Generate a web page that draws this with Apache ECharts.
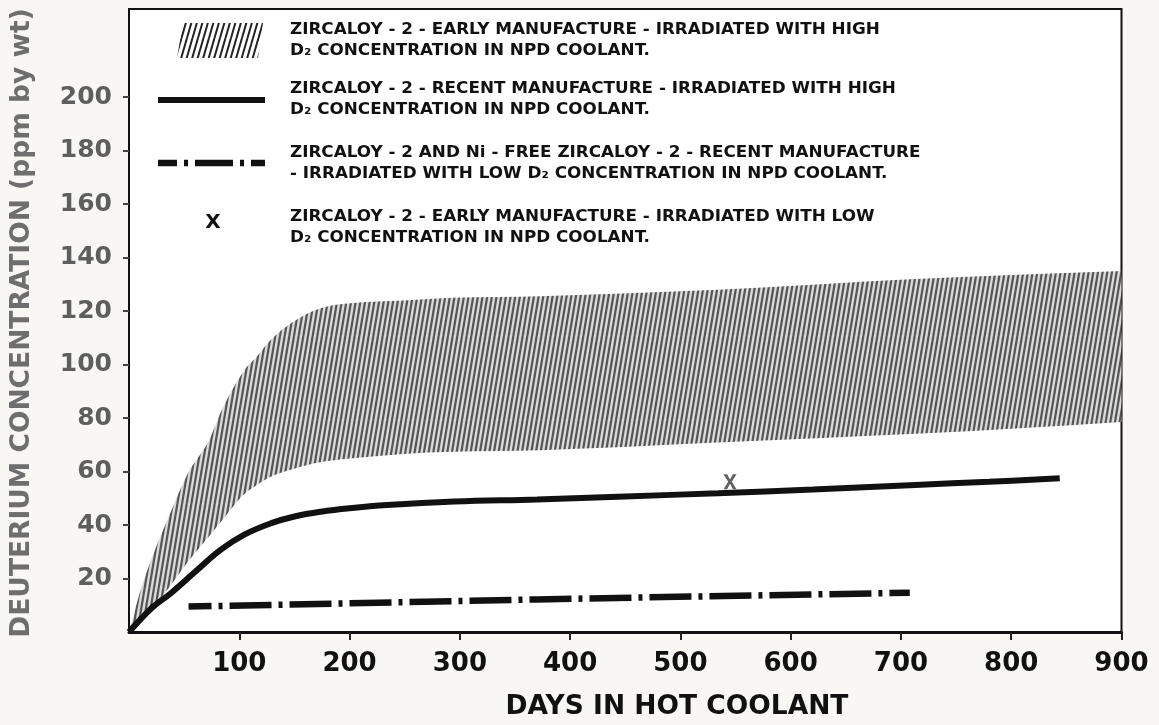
<!DOCTYPE html>
<html>
<head>
<meta charset="utf-8">
<script src="https://cdn.jsdelivr.net/npm/echarts@6/dist/echarts.min.js"></script>
<style>
  html, body { margin: 0; padding: 0; background: #f8f7f4; }
  #chart { width: 1159px; height: 725px; }
</style>
</head>
<body>
<div id="chart"></div>
<script>
// Axis tick values
const xTickValues = [100, 200, 300, 400, 500, 600, 700, 800, 900];
const yTickValues = [20, 40, 60, 80, 100, 120, 140, 160, 180, 200];

// Zircaloy-2, early manufacture, high D2: scatter band (lower / upper edge, ppm)
const bandDays  = [0, 10, 22, 37, 53, 73, 83, 103, 116, 128, 149, 173, 203, 249, 294, 373, 534, 713, 800, 900];
const bandLower = [0, 4, 9, 17, 26, 36, 41, 51, 55, 58, 61, 63.5, 65, 66.6, 67.4, 68, 70.9, 74.1, 76, 78.5];
const bandUpper = [0, 15, 29, 44, 59, 72, 82, 97, 103, 109, 116, 121, 123, 124, 125, 125.6, 128, 132, 133.5, 135];

// Zircaloy-2, recent manufacture, high D2
const recentDays = [0, 11, 22, 38, 60, 83, 105, 129, 150, 174, 200, 234, 295, 370, 450, 534, 620, 713, 780, 844];
const recentPpm  = [0, 5, 9.5, 14.5, 22.5, 30.7, 36.5, 40.7, 43.2, 45.0, 46.3, 47.5, 48.8, 49.6, 50.7, 51.9, 53.3, 55.0, 56.2, 57.5];

// Zircaloy-2 and Ni-free Zircaloy-2, recent manufacture, low D2
const lowD2Days = [54, 370, 708];
const lowD2Ppm  = [9.5, 12.2, 14.7];

// Zircaloy-2, early manufacture, low D2
const earlyLowDays = [545];
const earlyLowPpm  = [56.2];

const legendLabels = [
  'ZIRCALOY - 2 - EARLY MANUFACTURE - IRRADIATED WITH HIGH\nD\u2082 CONCENTRATION IN NPD COOLANT.',
  'ZIRCALOY - 2 - RECENT MANUFACTURE - IRRADIATED WITH HIGH\nD\u2082 CONCENTRATION IN NPD COOLANT.',
  'ZIRCALOY - 2 AND Ni - FREE ZIRCALOY - 2 - RECENT MANUFACTURE\n- IRRADIATED WITH LOW D\u2082 CONCENTRATION IN NPD COOLANT.',
  'ZIRCALOY - 2 - EARLY MANUFACTURE - IRRADIATED WITH LOW\nD\u2082 CONCENTRATION IN NPD COOLANT.'
];
const xTitle = 'DAYS IN HOT COOLANT';
const yTitle = 'DEUTERIUM CONCENTRATION (ppm by wt)';

// Steep diagonal hatching tile: `perTile` lines across width W, each
// line shifting one full tile width over the tile height H.
function hatchTile(W, H, perTile, lineColor, lineWidth, bg) {
  const c = document.createElement('canvas');
  c.width = W; c.height = H;
  const g = c.getContext('2d');
  if (bg) { g.fillStyle = bg; g.fillRect(0, 0, W, H); }
  g.strokeStyle = lineColor;
  g.lineWidth = lineWidth;
  const step = W / perTile;
  for (let k = -2 * perTile; k <= 2 * perTile; k++) {
    const x0 = k * step;
    g.beginPath();
    g.moveTo(x0, H);
    g.lineTo(x0 + W, 0);
    g.stroke();
  }
  return c;
}
const bandHatch = { image: hatchTile(14, 84, 3, '#555', 2.2, '#dadada'), repeat: 'repeat' };
const keyHatch  = { image: hatchTile(11, 38, 2, '#222', 2.0, null), repeat: 'repeat' };

const FONT = '"DejaVu Sans", "Liberation Sans", sans-serif';
const xSymbol = 'path://M0,0H3.4L6,5L8.6,0H12L7.7,7L12,14H8.6L6,9L3.4,14H0L4.3,7Z';

// Monotone cubic segments through screen points ordered by x
function monotoneSegments(p) {
  const n = p.length, d = [], m = new Array(n);
  for (let k = 0; k < n - 1; k++) d.push((p[k + 1][1] - p[k][1]) / (p[k + 1][0] - p[k][0]));
  m[0] = d[0]; m[n - 1] = d[n - 2];
  for (let k = 1; k < n - 1; k++) m[k] = d[k - 1] * d[k] <= 0 ? 0 : (d[k - 1] + d[k]) / 2;
  for (let k = 0; k < n - 1; k++) {
    if (d[k] === 0) { m[k] = 0; m[k + 1] = 0; continue; }
    const a = m[k] / d[k], b = m[k + 1] / d[k], s = a * a + b * b;
    if (s > 9) { const t = 3 / Math.sqrt(s); m[k] = t * a * d[k]; m[k + 1] = t * b * d[k]; }
  }
  const segs = [];
  for (let k = 0; k < n - 1; k++) {
    const h = (p[k + 1][0] - p[k][0]) / 3;
    segs.push({
      a: p[k], b: p[k + 1],
      c1: [p[k][0] + h, p[k][1] + m[k] * h],
      c2: [p[k + 1][0] - h, p[k + 1][1] - m[k + 1] * h]
    });
  }
  return segs;
}
const f = v => v.toFixed(2);

// Hatched band: upper edge out, lower edge back, closed
function renderBand(params, api) {
  if (params.dataIndex !== 0) return null;
  const up = bandDays.map((d, i) => api.coord([d, bandUpper[i]]));
  const lo = bandDays.map((d, i) => api.coord([d, bandLower[i]]));
  const su = monotoneSegments(up), sl = monotoneSegments(lo);
  let path = 'M' + f(up[0][0]) + ' ' + f(up[0][1]);
  su.forEach(s => { path += ' C' + f(s.c1[0]) + ' ' + f(s.c1[1]) + ' ' + f(s.c2[0]) + ' ' + f(s.c2[1]) + ' ' + f(s.b[0]) + ' ' + f(s.b[1]); });
  const last = lo[lo.length - 1];
  path += ' L' + f(last[0]) + ' ' + f(last[1]);
  for (let k = sl.length - 1; k >= 0; k--) {
    const s = sl[k];
    path += ' C' + f(s.c2[0]) + ' ' + f(s.c2[1]) + ' ' + f(s.c1[0]) + ' ' + f(s.c1[1]) + ' ' + f(s.a[0]) + ' ' + f(s.a[1]);
  }
  path += ' Z';
  return {
    type: 'path',
    shape: { pathData: path },
    style: { fill: bandHatch, stroke: null },
    silent: true
  };
}

const chart = echarts.init(document.getElementById('chart'), null, { renderer: 'canvas' });

const legendTops = [20, 78.5, 142.5, 206.5];

const graphics = [
  // legend swatches
  { type: 'polygon', shape: { points: [[177, 58], [183, 23], [263, 23], [258, 58]] },
    style: { fill: keyHatch }, silent: true },
  { type: 'line', shape: { x1: 158, y1: 100, x2: 265, y2: 100 },
    style: { stroke: '#111', lineWidth: 6 }, silent: true },
  { type: 'line', shape: { x1: 158, y1: 163, x2: 265, y2: 163 },
    style: { stroke: '#111', lineWidth: 6.5, lineDash: [38, 7, 4, 7], lineDashOffset: 19, lineCap: 'butt' }, silent: true },
  { type: 'text', x: 213, y: 223,
    style: { text: 'X', font: 'bold 20px ' + FONT, fill: '#111', align: 'center', verticalAlign: 'middle' }, silent: true },
  // axis titles
  { type: 'text', x: 677, y: 707,
    style: { text: xTitle, font: 'bold 26.5px ' + FONT, fill: '#111', align: 'center', verticalAlign: 'middle' }, silent: true },
  { type: 'text', x: 22, y: 323, rotation: Math.PI / 2,
    style: { text: yTitle, font: 'bold 26.5px ' + FONT, fill: '#6e6e6e', align: 'center', verticalAlign: 'middle' }, silent: true }
];
legendLabels.forEach((t, i) => {
  graphics.push({
    type: 'text', x: 290, y: legendTops[i], scaleX: 1.12, originX: 0,
    style: { text: t, font: 'bold 15px ' + FONT, fill: '#111', lineHeight: 21, align: 'left', verticalAlign: 'top' },
    silent: true
  });
});

chart.setOption({
  animation: false,
  backgroundColor: '#f8f7f4',
  grid: {
    left: 129, right: 37.5, top: 9, bottom: 93,
    show: true, backgroundColor: '#ffffff', borderColor: '#111', borderWidth: 2
  },
  xAxis: {
    type: 'value', min: 0, max: 900,
    axisLine: { show: true, lineStyle: { color: '#111', width: 3 } },
    axisTick: { show: true, customValues: xTickValues, length: 8, lineStyle: { color: '#222', width: 2 } },
    axisLabel: { customValues: xTickValues, margin: 19, color: '#111', fontSize: 26, fontWeight: 'bold', fontFamily: FONT },
    splitLine: { show: false }
  },
  yAxis: {
    type: 'value', min: 0, max: 233,
    axisLine: { show: true, lineStyle: { color: '#111', width: 2 } },
    axisTick: { show: true, customValues: yTickValues, length: 6, lineStyle: { color: '#444', width: 2 } },
    axisLabel: { customValues: yTickValues, margin: 17, color: '#5e5e5e', fontSize: 25, fontWeight: 'bold', fontFamily: FONT },
    splitLine: { show: false }
  },
  series: [
    {
      type: 'custom', renderItem: renderBand, clip: true, silent: true, z: 2,
      data: bandDays.map((d, i) => [d, bandLower[i], bandUpper[i]]),
      encode: { x: 0, y: [1, 2] }
    },
    {
      type: 'line', smooth: 0.4, symbol: 'none', silent: true, z: 4,
      lineStyle: { color: '#111', width: 6, cap: 'butt' },
      data: recentDays.map((d, i) => [d, recentPpm[i]])
    },
    {
      type: 'line', symbol: 'none', silent: true, z: 4,
      lineStyle: { color: '#111', width: 6.5, type: [42, 7, 4, 7], dashOffset: 19, cap: 'butt' },
      data: lowD2Days.map((d, i) => [d, lowD2Ppm[i]])
    },
    {
      type: 'scatter', symbol: xSymbol, symbolSize: [13, 15], silent: true, z: 5,
      itemStyle: { color: '#3a3a3a' },
      data: earlyLowDays.map((d, i) => [d, earlyLowPpm[i]])
    }
  ],
  graphic: { elements: graphics }
});
</script>
</body>
</html>
